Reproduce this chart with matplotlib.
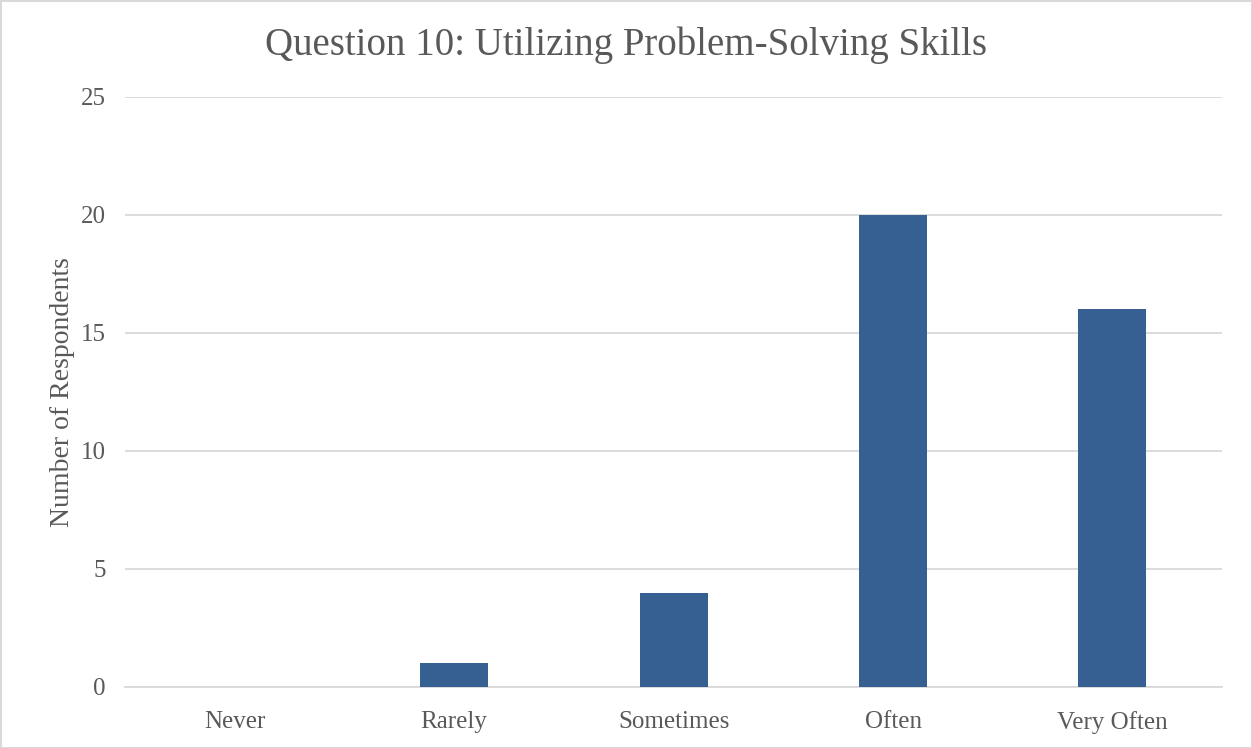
import matplotlib.pyplot as plt

categories = ["Never", "Rarely", "Sometimes", "Often", "Very Often"]
respondents = [0, 1, 4, 20, 16]
yticks = [0, 5, 10, 15, 20, 25]

plt.rcParams['font.family'] = ['Liberation Serif', 'DejaVu Serif']
text_color = "#595959"

fig = plt.figure(figsize=(12.52, 7.48), dpi=100)
fig.patch.set_edgecolor("#D9D9D9")
fig.patch.set_linewidth(2)
ax = fig.add_axes([0.0998, 0.0816, 0.8764, 0.7888])

x = range(len(categories))
ax.bar(x, respondents, width=0.31, color="#366092", zorder=3)

ax.set_xlim(-0.5, len(categories) - 0.5)
ax.set_ylim(0, 25)
ax.set_yticks(yticks)
ax.set_xticks(list(x))
ax.set_xticklabels(categories)
ax.grid(axis="y", color="#D9D9D9", linewidth=1.3, zorder=0)
for s in ["top", "right", "left"]:
    ax.spines[s].set_visible(False)
ax.spines["bottom"].set_color("#D9D9D9")
ax.spines["bottom"].set_linewidth(1.3)
ax.tick_params(axis="both", length=0, labelsize=18, colors=text_color)
ax.tick_params(axis="x", pad=17)
ax.tick_params(axis="y", pad=14)
ax.set_ylabel("Number of Respondents", fontsize=20, color=text_color, labelpad=4)
fig.text(0.5, 0.94, "Question 10: Utilizing Problem-Solving Skills", fontsize=28,
         color=text_color, ha="center", va="center")

fig.savefig("out.png", dpi=100, edgecolor=fig.get_edgecolor())
